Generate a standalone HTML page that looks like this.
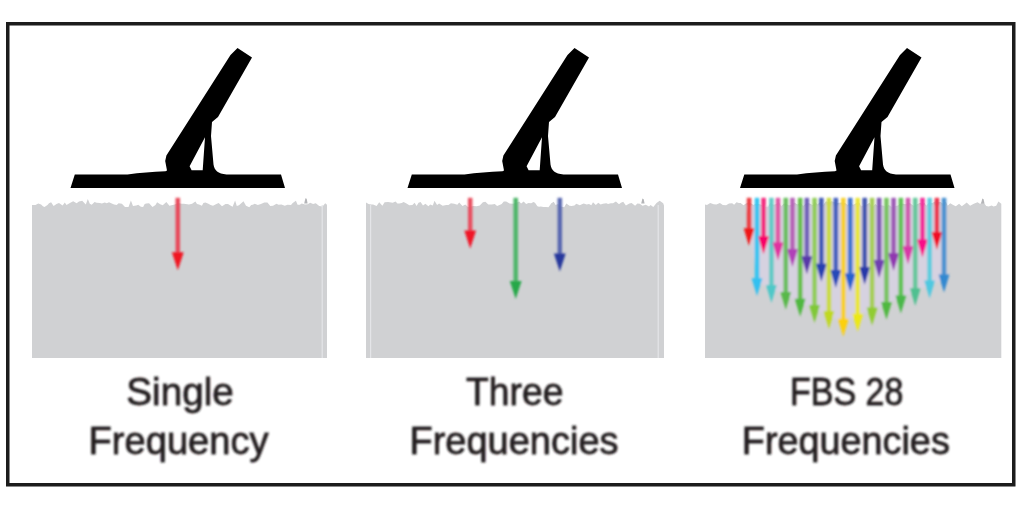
<!DOCTYPE html>
<html><head><meta charset="utf-8"><title>Frequencies</title>
<style>
html,body{margin:0;padding:0;background:#fff;}
body{width:1024px;height:512px;overflow:hidden;font-family:"Liberation Sans",sans-serif;}
svg{display:block;}
</style></head><body>
<svg width="1024" height="512" viewBox="0 0 1024 512">
<defs>
<filter id="b" x="-2%" y="-2%" width="104%" height="104%"><feGaussianBlur stdDeviation="0.7"/></filter>
<filter id="b2" x="-5%" y="-5%" width="110%" height="110%"><feGaussianBlur stdDeviation="1.0"/></filter>
<filter id="b3" x="-2%" y="-5%" width="104%" height="110%"><feGaussianBlur stdDeviation="0.9"/></filter>
</defs>
<rect width="1024" height="512" fill="#fff"/>
<g filter="url(#b)">
<rect x="7.75" y="23.75" width="1006" height="461" fill="none" stroke="#1a1a1a" stroke-width="3.5"/>
<path d="M32.0 358.0 L32.0 204.9 L35.5 204.9 L38.3 203.5 L41.1 204.6 L42.9 206.2 L44.5 207.0 L47.5 205.1 L49.0 203.3 L51.1 202.3 L53.6 205.9 L56.5 204.1 L59.0 203.0 L62.6 205.4 L64.8 202.5 L66.5 204.9 L69.9 203.0 L73.2 201.2 L76.6 203.3 L79.0 201.4 L82.2 200.7 L85.8 204.6 L87.8 199.1 L89.8 203.8 L91.7 204.7 L94.6 201.9 L96.6 202.7 L99.9 203.0 L101.9 203.6 L104.7 202.4 L106.8 203.2 L109.0 202.3 L111.8 203.4 L114.1 204.5 L116.7 205.1 L118.6 203.3 L121.9 203.8 L125.0 207.1 L128.5 206.9 L130.9 200.4 L133.0 206.1 L136.3 205.6 L138.2 204.7 L140.9 206.7 L143.1 207.0 L144.7 204.0 L146.3 203.5 L149.1 203.2 L152.5 206.9 L155.5 204.9 L157.1 202.2 L160.2 204.2 L162.7 205.2 L166.4 202.0 L169.4 205.7 L172.5 205.1 L174.8 204.5 L178.1 203.1 L181.5 203.8 L183.8 203.8 L185.6 204.0 L189.0 204.5 L192.1 203.8 L195.4 201.6 L197.0 204.0 L199.0 204.5 L201.9 205.7 L203.4 202.9 L205.4 202.4 L208.4 203.8 L210.6 204.9 L213.0 205.7 L216.4 203.9 L218.7 202.9 L222.0 206.3 L225.5 203.9 L228.0 203.9 L230.4 205.6 L232.6 206.7 L235.1 200.5 L236.8 206.1 L239.0 205.3 L241.5 203.0 L243.5 201.3 L246.0 205.7 L249.3 207.2 L251.2 204.9 L252.8 204.8 L254.8 203.8 L257.8 204.9 L260.9 204.1 L264.3 202.5 L267.4 202.6 L270.3 206.0 L273.0 205.7 L276.5 203.7 L278.5 204.8 L281.4 204.6 L284.8 205.7 L287.5 204.8 L291.0 205.0 L292.7 203.1 L295.9 200.7 L297.6 204.8 L299.8 204.8 L301.7 203.6 L305.0 204.5 L307.6 204.3 L310.2 202.8 L313.1 204.0 L315.8 203.2 L319.2 206.1 L322.5 206.6 L325.2 203.2 L327.0 204.8 L327.0 358.0 Z" fill="#d0d1d3"/>
<path d="M366.0 358.0 L366.0 202.5 L368.6 204.1 L371.4 204.4 L373.1 204.5 L376.6 206.1 L379.2 202.3 L382.4 205.7 L384.6 202.3 L388.1 201.9 L389.7 202.2 L392.7 202.7 L395.6 201.6 L397.4 203.5 L399.3 203.5 L401.7 203.0 L403.6 202.1 L406.5 203.6 L409.3 205.2 L412.4 205.0 L414.6 202.8 L416.6 206.1 L418.5 202.7 L420.6 202.1 L423.0 205.4 L425.4 203.7 L428.4 206.3 L430.2 204.5 L432.8 205.4 L434.5 200.8 L437.1 205.1 L439.1 203.5 L442.7 205.8 L446.2 204.9 L448.5 205.0 L450.9 203.2 L454.2 203.7 L457.3 204.7 L459.2 202.4 L462.5 206.0 L465.3 204.6 L468.0 207.1 L470.0 206.7 L473.2 206.1 L476.7 206.3 L479.8 205.6 L482.9 202.2 L485.4 201.8 L488.3 204.5 L491.8 204.5 L494.8 204.0 L497.1 205.9 L500.1 204.7 L501.7 204.0 L503.8 201.6 L506.2 201.6 L509.6 203.6 L513.2 203.8 L516.1 202.7 L519.2 201.5 L521.1 203.5 L523.7 201.4 L526.1 204.0 L528.5 203.0 L531.2 203.2 L533.4 202.0 L535.0 202.8 L537.4 206.3 L539.0 206.8 L540.8 206.5 L543.3 206.9 L546.0 206.9 L548.5 207.2 L551.3 203.3 L553.8 201.7 L555.6 204.9 L558.1 204.1 L560.6 206.5 L564.2 207.3 L566.3 203.4 L569.5 205.7 L571.6 205.9 L574.4 205.5 L576.3 203.7 L579.8 205.3 L581.9 204.2 L583.7 203.5 L586.7 204.6 L589.0 204.1 L591.3 205.2 L593.0 202.3 L595.8 205.1 L598.3 202.7 L600.6 204.4 L602.9 203.8 L606.3 203.2 L608.1 204.0 L610.8 203.3 L613.0 203.2 L615.9 201.5 L619.0 204.3 L620.9 202.8 L623.2 201.8 L625.9 205.5 L629.4 203.5 L631.6 203.0 L635.1 205.8 L637.4 203.5 L639.8 203.7 L642.5 205.8 L645.8 204.8 L649.0 206.5 L650.6 204.9 L653.3 207.0 L656.5 203.0 L659.7 200.7 L663.2 203.3 L664.0 205.4 L664.0 358.0 Z" fill="#d0d1d3"/>
<path d="M705.0 358.0 L705.0 204.5 L707.0 204.9 L710.2 203.1 L713.7 204.3 L716.4 204.4 L719.9 203.0 L722.8 205.0 L726.1 205.2 L729.0 203.6 L732.2 203.2 L734.1 204.8 L736.5 202.2 L738.9 202.9 L740.6 203.1 L743.5 205.3 L745.2 204.0 L748.6 202.2 L750.6 203.2 L753.6 205.0 L755.6 203.7 L758.7 204.0 L762.0 204.9 L765.4 207.0 L768.1 207.2 L770.1 203.1 L773.3 204.7 L775.9 204.2 L778.9 202.0 L781.2 206.5 L784.0 203.5 L786.3 203.9 L788.9 205.5 L791.0 205.0 L794.2 202.4 L797.5 204.4 L800.5 202.5 L803.1 206.3 L806.4 203.1 L808.8 203.2 L810.8 204.0 L812.7 205.3 L814.9 201.7 L817.5 204.6 L820.5 201.7 L823.0 205.6 L825.9 201.2 L828.9 202.2 L831.4 201.2 L834.7 202.1 L836.8 203.0 L839.0 202.8 L842.0 202.6 L845.0 203.0 L847.8 205.0 L851.0 202.2 L852.8 205.0 L854.7 203.9 L857.5 202.6 L859.4 202.8 L861.1 206.6 L863.8 205.4 L867.0 204.4 L869.4 202.8 L872.5 207.3 L875.4 204.0 L877.7 205.9 L880.0 205.2 L883.3 205.7 L886.4 207.0 L888.7 205.1 L891.8 207.3 L894.8 206.5 L898.3 205.4 L900.1 203.5 L903.1 203.8 L905.4 204.3 L909.0 202.6 L911.7 204.4 L913.8 205.9 L917.0 204.3 L920.3 202.7 L922.4 204.0 L924.3 202.7 L926.3 205.7 L929.2 202.6 L932.3 202.9 L935.5 201.2 L938.1 201.8 L940.8 202.0 L942.9 203.8 L945.8 201.5 L947.7 205.8 L950.2 203.3 L953.2 205.1 L955.8 206.3 L959.1 203.8 L961.8 206.2 L964.5 204.2 L966.7 202.5 L970.1 205.8 L973.3 204.0 L975.0 203.2 L977.6 202.2 L980.2 203.9 L982.6 201.1 L986.2 206.0 L988.6 206.6 L991.7 205.5 L993.5 206.5 L996.2 205.7 L998.4 201.4 L1001.3 203.8 L1001.3 358.0 Z" fill="#d0d1d3"/>
<rect x="321.6" y="205" width="1.2" height="153" fill="#e4e5e8"/>
<rect x="370.0" y="205" width="1.2" height="153" fill="#e4e5e8"/>
<rect x="657.6" y="205" width="1.2" height="153" fill="#e4e5e8"/>
<path d="M304.2 203.5 L305.4 198.2 L306.7 198.8 L307.6 203.5 Z" fill="#b4b5b8"/>
<path d="M641.2 203.5 L642.4 198.6 L643.7 199.2 L644.6 203.5 Z" fill="#b4b5b8"/>
<path d="M981.1 203.5 L982.3 198.6 L983.6 199.2 L984.5 203.5 Z" fill="#b4b5b8"/>
<g><path d="M74.8 174.4 L127.5 174.4 C140 172.8 152 171.6 165.5 171.2 L167 170.4 L165.2 161 L166.4 155.5 L230.5 55 L237.5 48 L252 57.5 L218 117 L212 122 L211 136 L213.5 164.5 C214.4 170.5 218 173.8 226.5 174.4 L281 174.4 L285 188.1 L70.5 188.1 Z M205 137.3 L189.6 166.2 L191.6 170.3 L202.7 170.3 Z" fill="#000" fill-rule="evenodd"/></g>
<g transform="translate(337,0)"><path d="M74.8 174.4 L127.5 174.4 C140 172.8 152 171.6 165.5 171.2 L167 170.4 L165.2 161 L166.4 155.5 L230.5 55 L237.5 48 L252 57.5 L218 117 L212 122 L211 136 L213.5 164.5 C214.4 170.5 218 173.8 226.5 174.4 L281 174.4 L285 188.1 L70.5 188.1 Z M205 137.3 L189.6 166.2 L191.6 170.3 L202.7 170.3 Z" fill="#000" fill-rule="evenodd"/></g>
<g transform="translate(669.5,0)"><path d="M74.8 174.4 L127.5 174.4 C140 172.8 152 171.6 165.5 171.2 L167 170.4 L165.2 161 L166.4 155.5 L230.5 55 L237.5 48 L252 57.5 L218 117 L212 122 L211 136 L213.5 164.5 C214.4 170.5 218 173.8 226.5 174.4 L281 174.4 L285 188.1 L70.5 188.1 Z M205 137.3 L189.6 166.2 L191.6 170.3 L202.7 170.3 Z" fill="#000" fill-rule="evenodd"/></g>
</g>
<g filter="url(#b2)">
<path d="M746 206 L947 206 L947 278 L843 322 L757 282 Z" fill="#d8d2e4" opacity="0.8"/>
<rect x="175.55" y="197.80" width="4.50" height="56.50" fill="#e84a5a"/><path d="M171.90 252.30 L183.70 252.30 L177.80 270.30 Z" fill="#f01424"/>
<rect x="467.95" y="197.80" width="4.50" height="34.80" fill="#e85060"/><path d="M464.30 230.60 L476.10 230.60 L470.20 248.60 Z" fill="#f01428"/>
<rect x="513.45" y="197.80" width="4.50" height="85.20" fill="#50b66a"/><path d="M509.80 281.00 L521.60 281.00 L515.70 299.00 Z" fill="#28a84a"/>
<rect x="557.55" y="197.80" width="4.50" height="57.80" fill="#5868b0"/><path d="M553.90 253.60 L565.70 253.60 L559.80 271.60 Z" fill="#28389c"/>
<rect x="746.80" y="197.80" width="4.60" height="32.40" fill="#ec3d42"/><path d="M743.70 228.20 L754.50 228.20 L749.10 246.00 Z" fill="#f01818"/>
<rect x="754.70" y="197.80" width="4.60" height="82.40" fill="#37c5f0"/><path d="M751.60 278.20 L762.40 278.20 L757.00 296.00 Z" fill="#30c0f0"/>
<rect x="761.25" y="197.80" width="4.60" height="40.55" fill="#f32b7e"/><path d="M758.15 236.35 L768.95 236.35 L763.55 254.15 Z" fill="#f80068"/>
<rect x="769.09" y="197.80" width="4.60" height="89.30" fill="#63cac6"/><path d="M765.99 285.10 L776.78 285.10 L771.38 302.90 Z" fill="#50c8c8"/>
<rect x="775.69" y="197.80" width="4.60" height="46.80" fill="#e056a5"/><path d="M772.59 242.60 L783.39 242.60 L777.99 260.40 Z" fill="#e030a0"/>
<rect x="783.47" y="197.80" width="4.60" height="96.20" fill="#6bbe60"/><path d="M780.37 292.00 L791.17 292.00 L785.77 309.80 Z" fill="#58b848"/>
<rect x="790.14" y="197.80" width="4.60" height="53.30" fill="#b562b6"/><path d="M787.04 249.10 L797.84 249.10 L792.44 266.90 Z" fill="#b040b8"/>
<rect x="797.86" y="197.80" width="4.60" height="103.05" fill="#67bf4b"/><path d="M794.75 298.85 L805.55 298.85 L800.15 316.65 Z" fill="#50b840"/>
<rect x="804.58" y="197.80" width="4.60" height="60.55" fill="#705eb8"/><path d="M801.48 256.35 L812.28 256.35 L806.88 274.15 Z" fill="#5838a8"/>
<rect x="812.24" y="197.80" width="4.60" height="109.30" fill="#91cd5a"/><path d="M809.14 305.10 L819.94 305.10 L814.54 322.90 Z" fill="#80c838"/>
<rect x="819.03" y="197.80" width="4.60" height="68.05" fill="#4058b5"/><path d="M815.93 263.85 L826.73 263.85 L821.33 281.65 Z" fill="#2840b0"/>
<rect x="826.62" y="197.80" width="4.60" height="115.30" fill="#cada42"/><path d="M823.52 311.10 L834.32 311.10 L828.92 328.90 Z" fill="#c0d820"/>
<rect x="833.48" y="197.80" width="4.60" height="74.30" fill="#4560bd"/><path d="M830.38 270.10 L841.18 270.10 L835.78 287.90 Z" fill="#2848b8"/>
<rect x="841.01" y="197.80" width="4.60" height="123.05" fill="#f7d02d"/><path d="M837.91 318.85 L848.71 318.85 L843.31 336.65 Z" fill="#fcd010"/>
<rect x="847.92" y="197.80" width="4.60" height="77.80" fill="#4073d0"/><path d="M844.82 273.60 L855.62 273.60 L850.22 291.40 Z" fill="#2860d0"/>
<rect x="855.39" y="197.80" width="4.60" height="118.05" fill="#eae63a"/><path d="M852.29 313.85 L863.09 313.85 L857.69 331.65 Z" fill="#ece818"/>
<rect x="862.37" y="197.80" width="4.60" height="71.20" fill="#4054ae"/><path d="M859.27 267.00 L870.07 267.00 L864.67 284.80 Z" fill="#2838a8"/>
<rect x="869.78" y="197.80" width="4.60" height="111.80" fill="#a6ce56"/><path d="M866.68 307.60 L877.48 307.60 L872.08 325.40 Z" fill="#90cc30"/>
<rect x="876.81" y="197.80" width="4.60" height="64.30" fill="#7c56b2"/><path d="M873.71 260.10 L884.51 260.10 L879.11 277.90 Z" fill="#7040b0"/>
<rect x="884.17" y="197.80" width="4.60" height="106.20" fill="#79c462"/><path d="M881.07 302.00 L891.87 302.00 L886.47 319.80 Z" fill="#50b840"/>
<rect x="891.26" y="197.80" width="4.60" height="57.40" fill="#9c5ab5"/><path d="M888.16 253.20 L898.96 253.20 L893.56 271.00 Z" fill="#9038b0"/>
<rect x="898.55" y="197.80" width="4.60" height="99.80" fill="#60c256"/><path d="M895.45 295.60 L906.25 295.60 L900.85 313.40 Z" fill="#48b848"/>
<rect x="905.71" y="197.80" width="4.60" height="50.55" fill="#ce5aad"/><path d="M902.61 246.35 L913.41 246.35 L908.01 264.15 Z" fill="#d838a8"/>
<rect x="912.94" y="197.80" width="4.60" height="92.40" fill="#66c79c"/><path d="M909.84 288.20 L920.63 288.20 L915.24 306.00 Z" fill="#50c090"/>
<rect x="920.15" y="197.80" width="4.60" height="43.80" fill="#f12e99"/><path d="M917.05 239.60 L927.85 239.60 L922.45 257.40 Z" fill="#f80888"/>
<rect x="927.32" y="197.80" width="4.60" height="84.80" fill="#5ecdde"/><path d="M924.22 280.60 L935.02 280.60 L929.62 298.40 Z" fill="#50c8e0"/>
<rect x="934.60" y="197.80" width="4.60" height="36.20" fill="#eb364e"/><path d="M931.50 232.00 L942.30 232.00 L936.90 249.80 Z" fill="#f01028"/>
<rect x="941.71" y="197.80" width="4.60" height="78.80" fill="#4892d0"/><path d="M938.61 274.60 L949.40 274.60 L944.00 292.40 Z" fill="#3088d0"/>
</g>
<g filter="url(#b3)">
<g font-family="Liberation Sans, sans-serif" font-size="39" fill="#231f20" stroke="#231f20" stroke-width="0.8" stroke-linejoin="round">
<text x="180.0" y="405.0" text-anchor="middle" textLength="107.5" lengthAdjust="spacingAndGlyphs">Single</text>
<text x="178.6" y="453.8" text-anchor="middle" textLength="180.0" lengthAdjust="spacingAndGlyphs">Frequency</text>
<text x="514.8" y="404.5" text-anchor="middle" textLength="97.5" lengthAdjust="spacingAndGlyphs">Three</text>
<text x="514.0" y="453.8" text-anchor="middle" textLength="209.0" lengthAdjust="spacingAndGlyphs">Frequencies</text>
<text x="846.7" y="404.5" text-anchor="middle" textLength="113.5" lengthAdjust="spacingAndGlyphs">FBS 28</text>
<text x="845.8" y="453.8" text-anchor="middle" textLength="208.0" lengthAdjust="spacingAndGlyphs">Frequencies</text>
</g>
</g>
</svg>
</body></html>
